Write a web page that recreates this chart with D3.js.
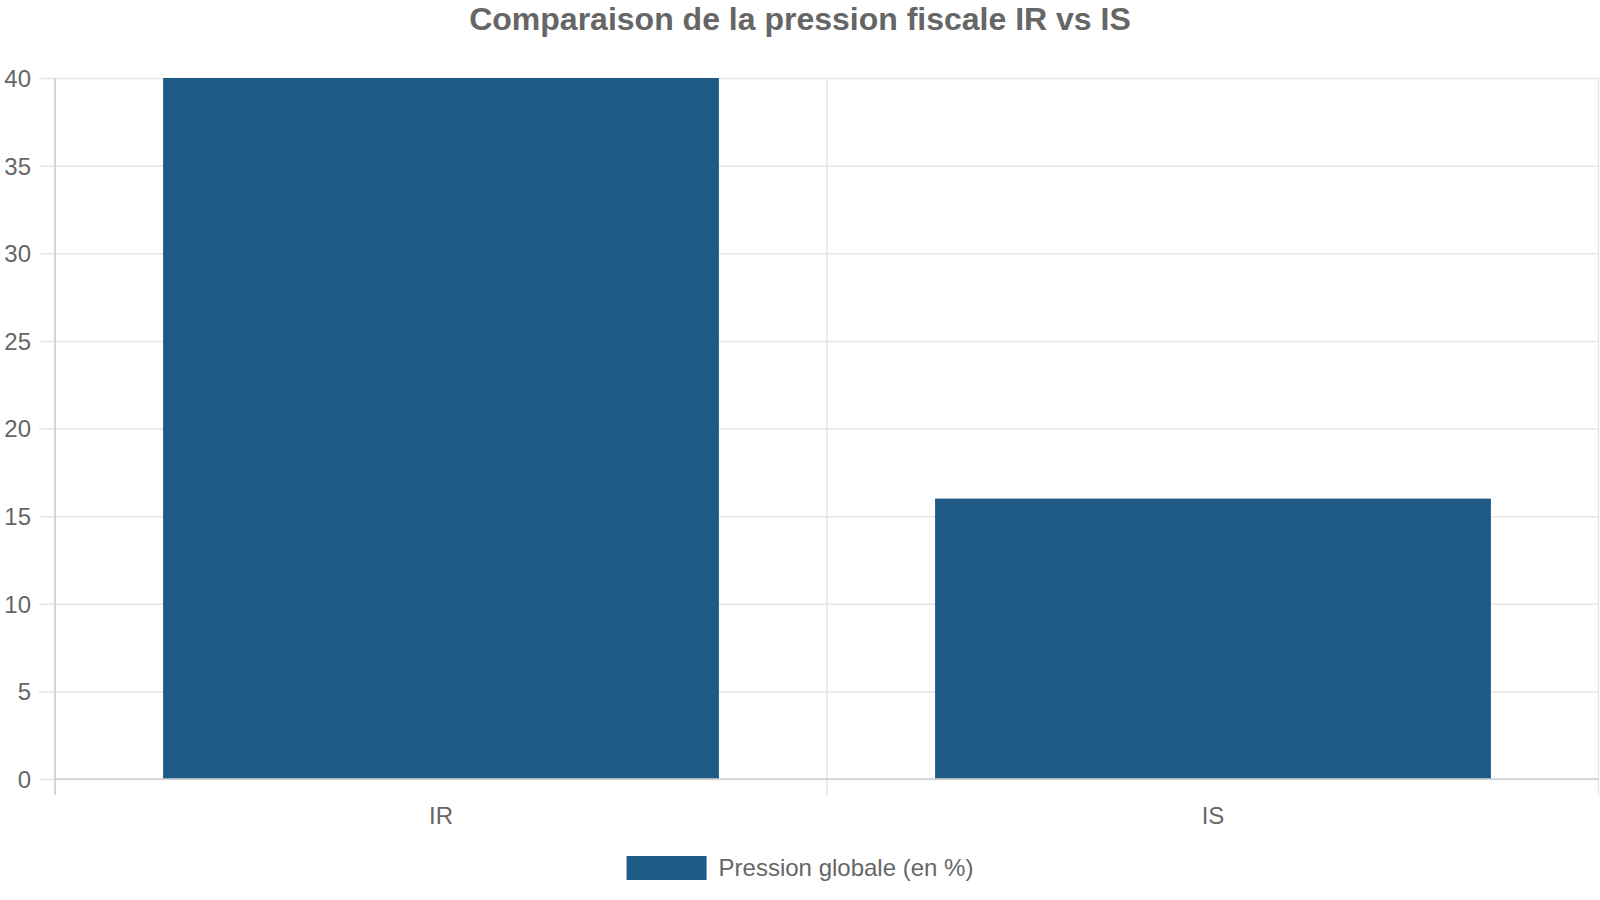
<!DOCTYPE html>
<html>
<head>
<meta charset="utf-8">
<script src="https://cdn.jsdelivr.net/npm/d3@7"></script>
<style>
  html,body{margin:0;padding:0;background:#fff;}
  svg{display:block;font-family:"Liberation Sans",Arial,Helvetica,sans-serif;}
</style>
</head>
<body>
<svg id="chart"></svg>
<script>
// données du graphique
const categories = ['IR', 'IS'];
const pression = [40, 16];
const yTicks = [0, 5, 10, 15, 20, 25, 30, 35, 40];
const seriesName = 'Pression globale (en %)';
const titre = 'Comparaison de la pression fiscale IR vs IS';

const W = 1600, H = 900;
const m = {top: 78, right: 1, bottom: 121, left: 55};
const w = W - m.left - m.right, h = H - m.top - m.bottom;
const barColor = '#1f5b86';
const textColor = '#666';
const gridColor = '#e5e5e5';
const axisColor = '#cfcfcf';

const svg = d3.select('#chart').attr('width', W).attr('height', H);

svg.append('text')
    .attr('x', W / 2).attr('y', 30)
    .attr('text-anchor', 'middle')
    .attr('fill', textColor)
    .style('font-size', '32px').style('font-weight', 'bold')
    .text(titre);

const g = svg.append('g').attr('transform', 'translate(' + m.left + ',' + m.top + ')');

const x = d3.scaleBand().domain(categories).range([0, w]).padding(0);
const y = d3.scaleLinear().domain([0, 40]).range([h, 0]);

// grille horizontale + graduations y
const yAxis = g.append('g')
    .attr('transform', 'translate(-16,0)')
    .call(d3.axisLeft(y).tickValues(yTicks).tickSize(-(w + 16)).tickPadding(8));
yAxis.select('.domain').remove();
yAxis.selectAll('line').attr('stroke', gridColor).attr('stroke-width', 1.5);
yAxis.selectAll('text').attr('fill', textColor).style('font-size', '24px').attr('dy', '0.35em');

// grille verticale (bords des catégories)
const edges = categories.map(c => x(c)).concat([w]);
g.selectAll('.vgrid').data(edges).enter().append('line')
    .attr('class', 'vgrid')
    .attr('x1', d => Math.min(d, w - 0.5)).attr('x2', d => Math.min(d, w - 0.5))
    .attr('y1', 0).attr('y2', h + 16)
    .attr('stroke', gridColor).attr('stroke-width', 1.5);

// barres
const bw = x.bandwidth() * 0.72;
g.selectAll('.bar').data(pression).enter().append('rect')
    .attr('class', 'bar')
    .attr('x', (d, i) => x(categories[i]) + (x.bandwidth() - bw) / 2)
    .attr('y', d => y(d))
    .attr('width', bw)
    .attr('height', d => h - y(d))
    .attr('fill', barColor);

// axes
g.append('line').attr('x1', 0).attr('x2', 0).attr('y1', 0).attr('y2', h + 16)
    .attr('stroke', axisColor).attr('stroke-width', 1.5);
g.append('line').attr('x1', 0).attr('x2', w).attr('y1', h).attr('y2', h)
    .attr('stroke', axisColor).attr('stroke-width', 1.5);

const xAxis = g.append('g')
    .attr('transform', 'translate(0,' + h + ')')
    .call(d3.axisBottom(x).tickSize(0).tickPadding(28));
xAxis.select('.domain').remove();
xAxis.selectAll('text').attr('fill', textColor).style('font-size', '24px').attr('dy', '0.71em');

// légende
const leg = svg.append('g');
const legText = leg.append('text')
    .attr('x', 92).attr('y', 876)
    .attr('fill', textColor)
    .style('font-size', '24px')
    .text(seriesName);
leg.append('rect')
    .attr('x', 0).attr('y', 856).attr('width', 80).attr('height', 24)
    .attr('fill', barColor);
const lw = 92 + legText.node().getComputedTextLength();
leg.attr('transform', 'translate(' + (W / 2 - lw / 2) + ',0)');
</script>
</body>
</html>
